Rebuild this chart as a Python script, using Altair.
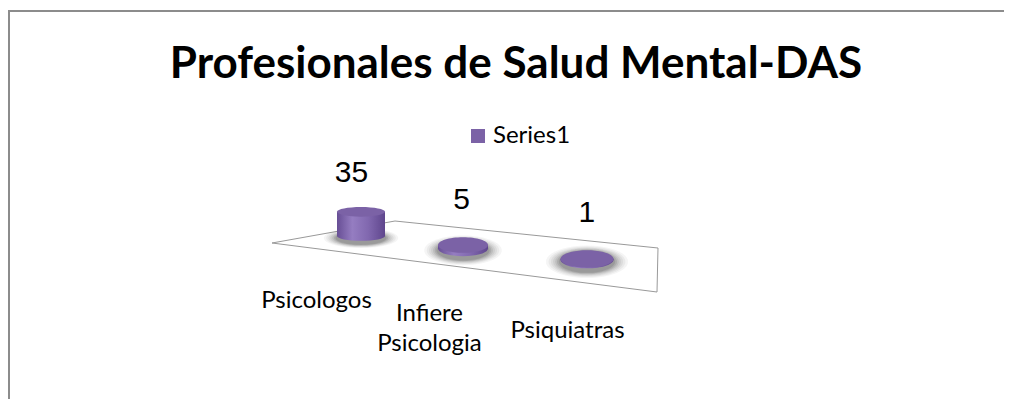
import altair as alt
import pandas as pd

# ---- data -------------------------------------------------------------
categories = ["Psicologos", "Infiere Psicologia", "Psiquiatras"]
values = [35, 5, 1]
series_name = "Series1"
title_text = "Profesionales de Salud Mental-DAS"

# ---- layout (3D look) -------------------------------------------------
W, H = 996, 391
K = 0.69  # pixels per unit of value (cylinder height)


def floor_center(i):
    """perspective position of category i on the floor's centre line"""
    cx = 353 + 102 * i + 11 * i * (i - 1)
    by = 228 + 12.4 * i - 0.55 * i * (i - 1)
    w = 48 + 2 * i + 0.5 * i * (i - 1)
    return cx, by, w


def front_label_anchor(i):
    """position of category i under the front edge of the floor"""
    lx = 308.5 + 113 * i + 12.5 * i * (i - 1)
    ly = 300 + 12.7 * i + 2.3 * i * (i - 1)
    return lx, ly


def ellipse_path(a):
    k = 0.5523
    return (f"M -1 0 C -1 {-a*k:.4f} {-k} {-a:.4f} 0 {-a:.4f} "
            f"C {k} {-a:.4f} 1 {-a*k:.4f} 1 0 "
            f"C 1 {a*k:.4f} {k} {a:.4f} 0 {a:.4f} "
            f"C {-k} {a:.4f} -1 {a*k:.4f} -1 0 Z")


shadow_steps = [(1.55, 0.05), (1.45, 0.06), (1.36, 0.07), (1.28, 0.08),
                (1.20, 0.10), (1.13, 0.12), (1.06, 0.14)]

rows, shadow_rows = [], []
for i, (cat, v) in enumerate(zip(categories, values)):
    cx, by, w = floor_center(i)
    a = 0.33 - 0.0037 * v
    top = by - K * v
    lx, ly = front_label_anchor(i)
    label = "\n".join(cat.split(" ")) if len(cat) > 12 else cat
    rows.append(dict(cat=cat, value=v, series=series_name, cx=cx, xl=cx - w / 2,
                     xr=cx + w / 2, base=by, top=top, shape=ellipse_path(a),
                     size=w * w, vlabel_x=cx - 0.27 * v,
                     vlabel_y=top - a * w - 20, lx=lx, ly=ly,
                     label=label, vtext=str(v)))
    for f, op in shadow_steps:
        shadow_rows.append(dict(cx=cx, base=by + 2, shape=ellipse_path(a + 0.07),
                                size=(w * f) ** 2, op=op))

df = pd.DataFrame(rows)
shadows = pd.DataFrame(shadow_rows)

floor = pd.DataFrame({
    "px": [264, 387, 650, 649, 264],
    "py": [235, 213, 240, 284, 235],
    "o": [0, 1, 2, 3, 4],
})

xs = alt.Scale(domain=[0, W], range=[0, W], nice=False, zero=False)
ys = alt.Scale(domain=[0, H], range=[0, H], nice=False, zero=False)

body_grad = alt.Gradient(
    gradient="linear", x1=0, x2=1, y1=0, y2=0,
    stops=[alt.GradientStop(color="#674E95", offset=0),
           alt.GradientStop(color="#957DC1", offset=0.32),
           alt.GradientStop(color="#8168AF", offset=0.65),
           alt.GradientStop(color="#5F468D", offset=1)])

base = alt.Chart(df)

floor_layer = alt.Chart(floor).mark_line(color="#999999", strokeWidth=1).encode(
    x=alt.X("px:Q", scale=xs, axis=None),
    y=alt.Y("py:Q", scale=ys, axis=None),
    order="o:Q")

shadow_layer = alt.Chart(shadows).mark_point(filled=True, color="#333333", strokeWidth=0).encode(
    x=alt.X("cx:Q", scale=xs, axis=None),
    y=alt.Y("base:Q", scale=ys, axis=None),
    shape=alt.Shape("shape:N", scale=None),
    size=alt.Size("size:Q", scale=None),
    opacity=alt.Opacity("op:Q", scale=None))

base_ell = base.mark_point(filled=True, fill=body_grad, opacity=1, strokeWidth=0).encode(
    x=alt.X("cx:Q", scale=xs, axis=None),
    y=alt.Y("base:Q", scale=ys, axis=None),
    shape=alt.Shape("shape:N", scale=None),
    size=alt.Size("size:Q", scale=None))

body = base.mark_rect(fill=body_grad, strokeWidth=0).encode(
    x=alt.X("xl:Q", scale=xs, axis=None), x2="xr:Q",
    y=alt.Y("top:Q", scale=ys, axis=None), y2="base:Q")

top_ell = base.mark_point(filled=True, opacity=1, strokeWidth=0).encode(
    x=alt.X("cx:Q", scale=xs, axis=None),
    y=alt.Y("top:Q", scale=ys, axis=None),
    shape=alt.Shape("shape:N", scale=None),
    size=alt.Size("size:Q", scale=None),
    color=alt.Color("series:N",
                    scale=alt.Scale(domain=[series_name], range=["#7B62A6"]),
                    legend=alt.Legend(title=None, orient="none", legendX=458, legendY=116,
                                      symbolType="square", symbolSize=196,
                                      symbolStrokeWidth=0, labelFont="Lato",
                                      labelFontSize=24, labelColor="#000000",
                                      padding=0, labelOffset=3)))

value_labels = base.mark_text(font="Liberation Sans", fontSize=30, align="center",
                              baseline="alphabetic", color="#000000").encode(
    x=alt.X("vlabel_x:Q", scale=xs, axis=None),
    y=alt.Y("vlabel_y:Q", scale=ys, axis=None),
    text="vtext:N")

cat_labels = base.mark_text(font="Lato", fontSize=24, align="center",
                            baseline="alphabetic", lineBreak="\n", lineHeight=30,
                            color="#000000").encode(
    x=alt.X("lx:Q", scale=xs, axis=None),
    y=alt.Y("ly:Q", scale=ys, axis=None),
    text="label:N")

title_layer = alt.Chart(pd.DataFrame({"t": [title_text]})).mark_text(
    font="Lato", fontSize=44, fontWeight="bold", align="center",
    baseline="alphabetic", color="#000000").encode(
    x=alt.value(508), y=alt.value(70), text="t:N")

border_top = alt.Chart(pd.DataFrame({"d": [0]})).mark_rule(
    color="#8c8c8c", strokeWidth=2).encode(
    x=alt.value(0), x2=alt.value(W), y=alt.value(3))
border_left = alt.Chart(pd.DataFrame({"d": [0]})).mark_rule(
    color="#8c8c8c", strokeWidth=2).encode(
    x=alt.value(1), y=alt.value(3), y2=alt.value(H))

chart = alt.layer(
    floor_layer, shadow_layer, base_ell, body, top_ell,
    value_labels, cat_labels, title_layer, border_top, border_left
).properties(
    width=W, height=H, padding=0,
    autosize=alt.AutoSizeParams(type="none"),
    background="#ffffff",
).configure_view(strokeWidth=0)

chart.save("out.html", embed_options={"renderer": "svg", "actions": False})
